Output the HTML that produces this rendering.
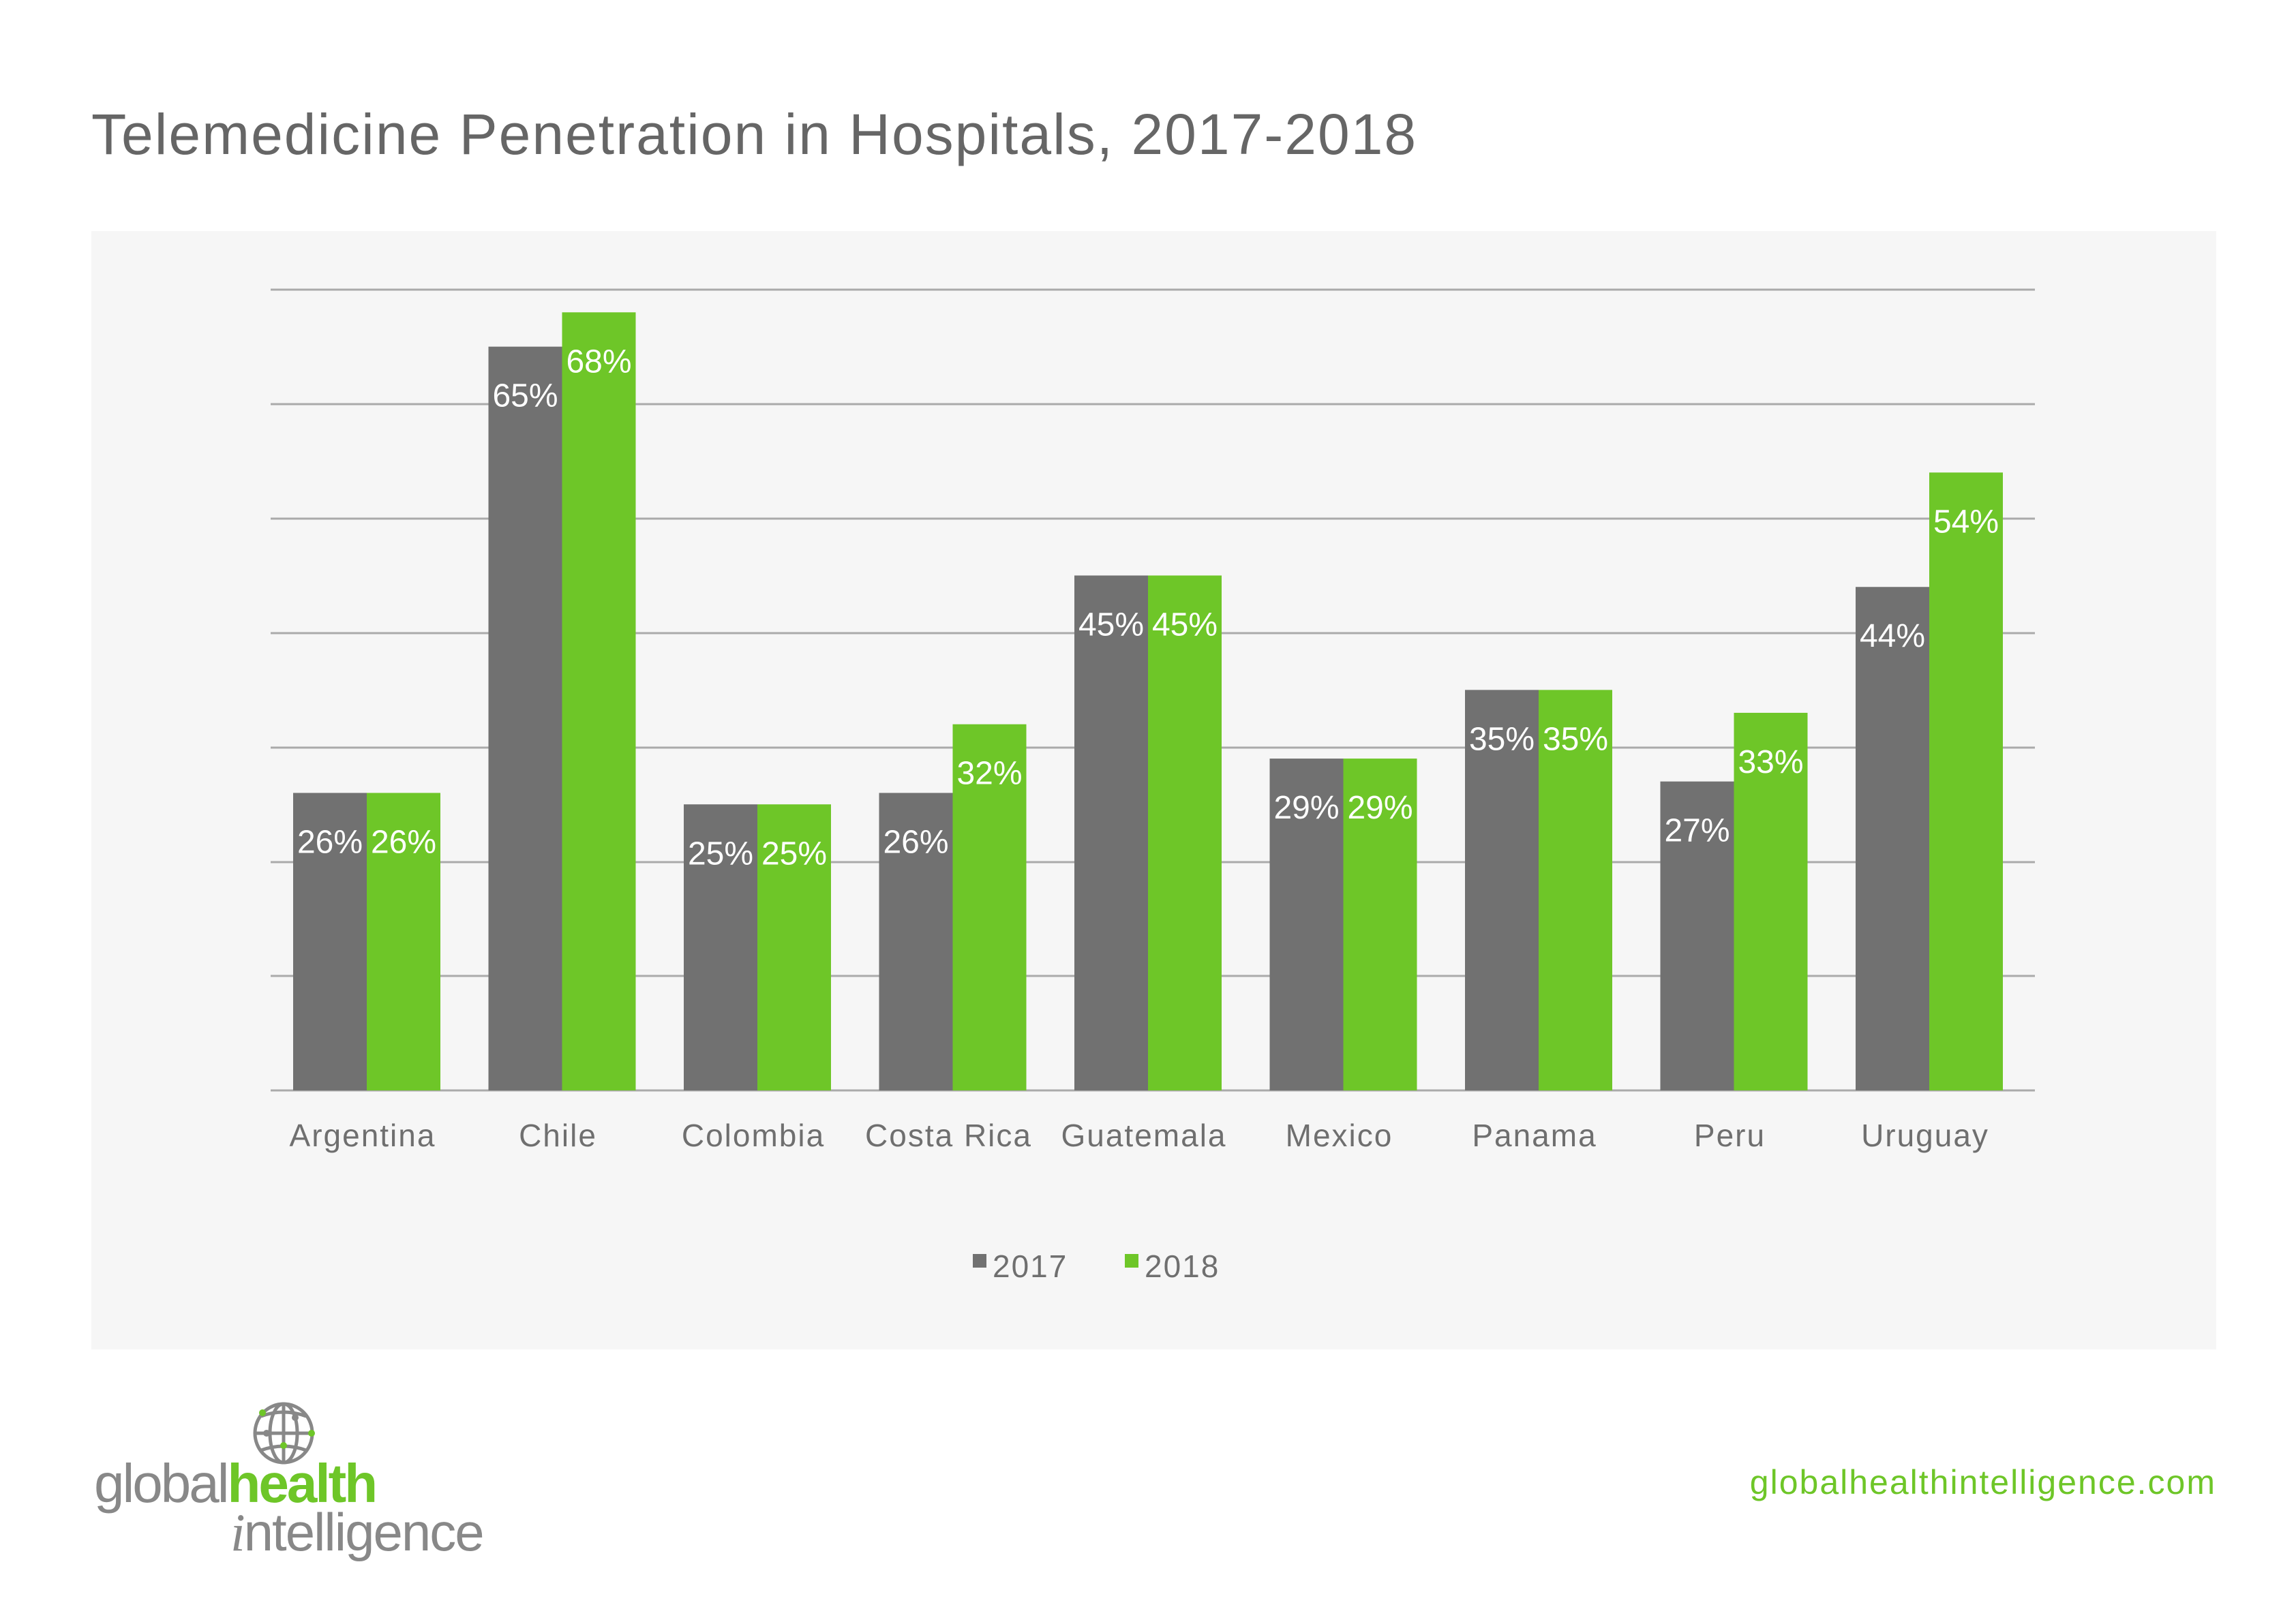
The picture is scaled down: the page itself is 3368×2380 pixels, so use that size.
<!DOCTYPE html>
<html><head><meta charset="utf-8"><style>
html,body{margin:0;padding:0;background:#fff}
svg{display:block}
text{font-family:"Liberation Sans",sans-serif}
</style></head><body>
<svg width="3368" height="2380" viewBox="0 0 3368 2380" xmlns="http://www.w3.org/2000/svg">
<rect width="3368" height="2380" fill="#fff"/>
<text x="134" y="226" font-size="84" fill="#666" letter-spacing="2">Telemedicine Penetration in Hospitals, 2017-2018</text>
<rect x="134" y="339" width="3117" height="1641" fill="#f6f6f6"/>
<g stroke="#aaa" stroke-width="3">
<line x1="397" x2="2985" y1="425" y2="425"/>
<line x1="397" x2="2985" y1="593" y2="593"/>
<line x1="397" x2="2985" y1="761" y2="761"/>
<line x1="397" x2="2985" y1="929" y2="929"/>
<line x1="397" x2="2985" y1="1097" y2="1097"/>
<line x1="397" x2="2985" y1="1265" y2="1265"/>
<line x1="397" x2="2985" y1="1432" y2="1432"/>
<line x1="397" x2="2985" y1="1600" y2="1600"/>
</g>
<g id="bars"></g>
<g font-size="46" fill="#6f6f6f" text-anchor="middle" letter-spacing="2" id="cats"></g>
<rect x="1427" y="1840" width="20" height="20" fill="#717171"/>
<text x="1456" y="1874" font-size="46" fill="#6f6f6f" letter-spacing="2">2017</text>
<rect x="1650" y="1840" width="20" height="20" fill="#6ec628"/>
<text x="1679" y="1874" font-size="46" fill="#6f6f6f" letter-spacing="2">2018</text>
<text x="3251" y="2192" font-size="50" fill="#6ec628" text-anchor="end" letter-spacing="2">globalhealthintelligence.com</text>
<g fill="none" stroke="#888" stroke-width="5">
<ellipse cx="416" cy="2103" rx="42" ry="43"/>
<ellipse cx="416" cy="2103" rx="20" ry="43"/>
<line x1="416" y1="2060" x2="416" y2="2146"/>
<line x1="374" y1="2103" x2="458" y2="2103"/>
<path d="M383 2078 Q416 2066 449 2078"/>
<path d="M383 2128 Q416 2116 449 2128"/>
</g>
<g fill="#6ec628"><circle cx="385" cy="2073" r="5"/><circle cx="457" cy="2103" r="5"/><circle cx="416" cy="2121" r="5"/></g>
<g fill="#888"><circle cx="433" cy="2080" r="5"/><circle cx="391" cy="2103" r="5"/></g>
<text x="138" y="2204" font-size="80" fill="#888" letter-spacing="-3">global<tspan fill="#6ec628" font-weight="bold">health</tspan></text>
<text x="338" y="2275" font-size="78" fill="#888" letter-spacing="-2"><tspan font-family="Liberation Serif" font-style="italic">i</tspan>ntelligence</text>
<script>
var d=[["Argentina",26,26],["Chile",65,68],["Colombia",25,25],["Costa Rica",26,32],["Guatemala",45,45],["Mexico",29,29],["Panama",35,35],["Peru",27,33],["Uruguay",44,54]];
var ns="http://www.w3.org/2000/svg",b=document.getElementById("bars"),c=document.getElementById("cats");
function el(t,a,p,tx){var e=document.createElementNS(ns,t);for(var k in a)e.setAttribute(k,a[k]);if(tx)e.textContent=tx;p.appendChild(e);}
d.forEach(function(r,i){var x=430+i*286.5;
[[r[1],"#717171",x],[r[2],"#6ec628",x+108]].forEach(function(s){var h=s[0]*16.79,y=1600-h;
el("rect",{x:s[2],y:y,width:108,height:h,fill:s[1]},b);
el("text",{x:s[2]+54,y:y+88,"font-size":48,fill:"#fff","text-anchor":"middle"},b,s[0]+"%");});
el("text",{x:x+102,y:1682},c,r[0]);});
</script>
</svg>
</body></html>
